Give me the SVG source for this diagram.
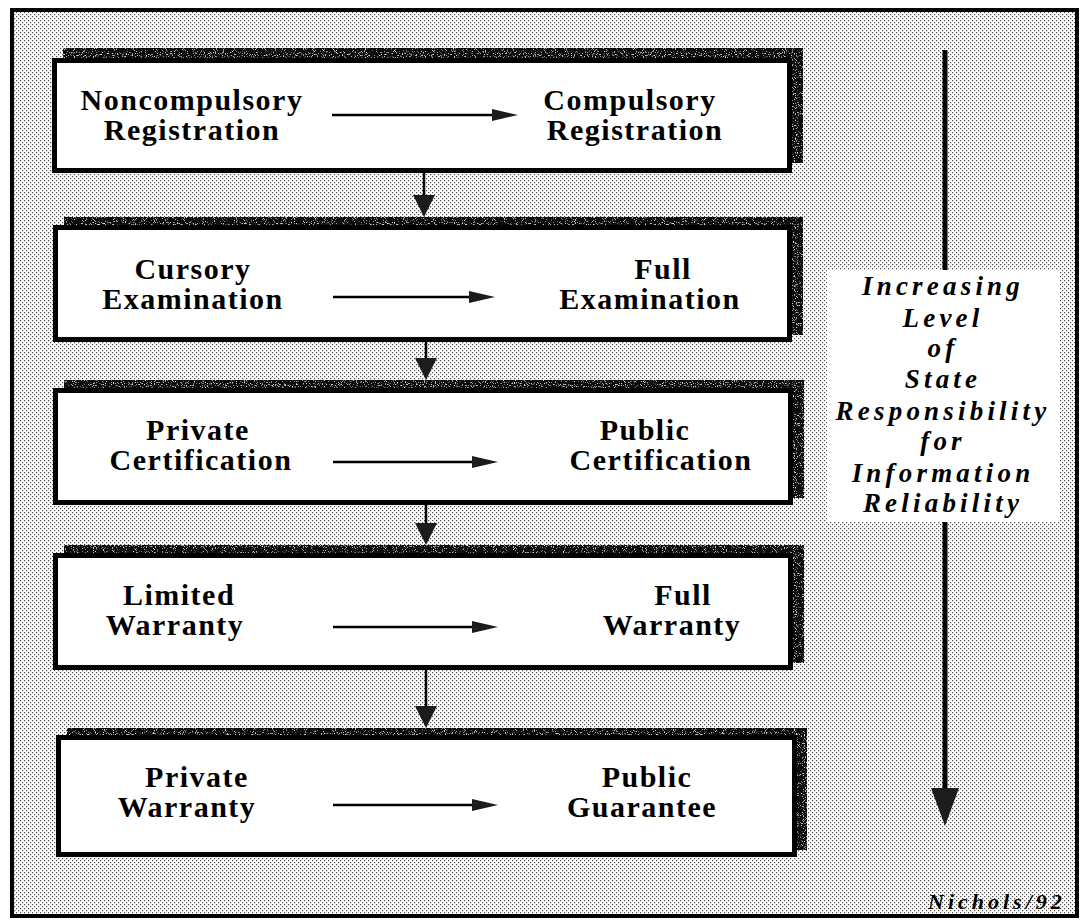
<svg xmlns="http://www.w3.org/2000/svg" width="1080" height="920" viewBox="0 0 1080 920">
  <defs>
    <!-- halftone stipple for the background -->
    <pattern id="stipple" width="4" height="4" patternUnits="userSpaceOnUse">
      <rect width="4" height="4" fill="#ffffff"/>
      <rect x="0" y="0" width="1.2" height="1.2" fill="#505050"/>
      <rect x="2" y="2" width="1.2" height="1.2" fill="#505050"/>
    </pattern>
    <!-- grainy specks over the dark shadow bands and heads -->
    <filter id="speckle" x="0" y="0" width="100%" height="100%">
      <feTurbulence type="fractalNoise" baseFrequency="0.9" numOctaves="1" seed="7" result="n"/>
      <feColorMatrix in="n" type="matrix" values="0 0 0 0 0.7  0 0 0 0 0.7  0 0 0 0 0.7  7 0 0 0 -4.1" result="s"/>
      <feComposite in="s" in2="SourceGraphic" operator="in" result="sp"/>
      <feMerge>
        <feMergeNode in="SourceGraphic"/>
        <feMergeNode in="sp"/>
      </feMerge>
    </filter>
    <marker id="hhead" viewBox="0 0 26 14" refX="1" refY="7" markerWidth="26" markerHeight="14" markerUnits="userSpaceOnUse" orient="auto">
      <path d="M0,1 L26,7 L0,13 Z" fill="#1c1c1c"/>
    </marker>
    <marker id="vhead" viewBox="0 0 22 22" refX="1" refY="11" markerWidth="22" markerHeight="22" markerUnits="userSpaceOnUse" orient="auto">
      <path d="M0,0 L22,11 L0,22 Z" fill="#1c1c1c"/>
    </marker>
  </defs>
  <style>
    .shadow { fill: #111111; filter: url(#speckle); }
    .box { fill: #ffffff; stroke: #000000; stroke-width: 5; }
    .lbl { font-family: "Liberation Serif", "Times New Roman", serif; font-weight: bold; font-size: 30px; letter-spacing: 1.5px; fill: #000000; text-anchor: middle; }
    .side { font-family: "Liberation Serif", "Times New Roman", serif; font-weight: bold; font-style: italic; font-size: 27px; letter-spacing: 4.2px; fill: #000000; text-anchor: middle; }
    .sig { font-family: "Liberation Serif", "Times New Roman", serif; font-weight: bold; font-style: italic; font-size: 22px; letter-spacing: 4px; fill: #000000; }
    .hline { stroke: #000000; stroke-width: 2.5; fill: none; marker-end: url(#hhead); }
    .vline { stroke: #000000; stroke-width: 2.5; fill: none; marker-end: url(#vhead); }
  </style>

  <!-- page frame with stippled ground -->
  <rect x="0" y="0" width="1080" height="920" fill="#ffffff"/>
  <rect x="12" y="10" width="1065" height="906" fill="url(#stipple)" stroke="#000000" stroke-width="4"/>

  <!-- stage 1 -->
  <g id="stage-registration">
    <rect class="shadow" x="63" y="48" width="740" height="115"/>
    <rect class="box" x="54.5" y="60.5" width="735" height="110"/>
    <text class="lbl" x="192" y="110">Noncompulsory</text>
    <text class="lbl" x="192" y="140">Registration</text>
    <text class="lbl" x="630" y="110">Compulsory</text>
    <text class="lbl" x="635" y="140">Registration</text>
  </g>

  <!-- stage 2 -->
  <g id="stage-examination">
    <rect class="shadow" x="64" y="217" width="739" height="118"/>
    <rect class="box" x="55.5" y="227.5" width="734" height="112"/>
    <text class="lbl" x="193" y="279">Cursory</text>
    <text class="lbl" x="193" y="309">Examination</text>
    <text class="lbl" x="663" y="279">Full</text>
    <text class="lbl" x="650" y="309">Examination</text>
  </g>

  <!-- stage 3 -->
  <g id="stage-certification">
    <rect class="shadow" x="64" y="380" width="740" height="118"/>
    <rect class="box" x="55.5" y="390.5" width="735" height="112"/>
    <text class="lbl" x="198" y="440">Private</text>
    <text class="lbl" x="201" y="470">Certification</text>
    <text class="lbl" x="645" y="440">Public</text>
    <text class="lbl" x="661" y="470">Certification</text>
  </g>

  <!-- stage 4 -->
  <g id="stage-warranty">
    <rect class="shadow" x="64" y="545" width="740" height="118"/>
    <rect class="box" x="55.5" y="555.5" width="735" height="112"/>
    <text class="lbl" x="179" y="605">Limited</text>
    <text class="lbl" x="175" y="635">Warranty</text>
    <text class="lbl" x="683" y="605">Full</text>
    <text class="lbl" x="672" y="635">Warranty</text>
  </g>

  <!-- stage 5 -->
  <g id="stage-guarantee">
    <rect class="shadow" x="67" y="728" width="740" height="122"/>
    <rect class="box" x="58.5" y="737.5" width="736" height="117"/>
    <text class="lbl" x="197" y="787">Private</text>
    <text class="lbl" x="187" y="817">Warranty</text>
    <text class="lbl" x="647" y="787">Public</text>
    <text class="lbl" x="642" y="817">Guarantee</text>
  </g>

  <!-- side label -->
  <g id="side-label">
    <rect x="827" y="270" width="233" height="252" fill="#ffffff"/>
    <text class="side" x="943" y="295">Increasing</text>
    <text class="side" x="943" y="327">Level</text>
    <text class="side" x="943" y="357">of</text>
    <text class="side" x="943" y="388">State</text>
    <text class="side" x="943" y="420">Responsibility</text>
    <text class="side" x="943" y="450">for</text>
    <text class="side" x="943" y="482">Information</text>
    <text class="side" x="943" y="512">Reliability</text>
  </g>

  <g id="signature">
    <text class="sig" x="928" y="909">Nichols/92</text>
  </g>

  <!-- connectors -->
  <g id="connectors">
    <line class="hline" x1="332" y1="115" x2="493" y2="115"/>
    <line class="hline" x1="333" y1="297" x2="470" y2="297"/>
    <line class="hline" x1="333" y1="462" x2="473" y2="462"/>
    <line class="hline" x1="333" y1="627" x2="473" y2="627"/>
    <line class="hline" x1="333" y1="805" x2="473" y2="805"/>

    <line class="vline" x1="424" y1="173" x2="424" y2="196"/>
    <line class="vline" x1="426" y1="342" x2="426" y2="359"/>
    <line class="vline" x1="426" y1="505" x2="426" y2="524"/>
    <line class="vline" x1="426" y1="670" x2="426" y2="707"/>

    <line x1="945" y1="50" x2="945" y2="270" stroke="#000000" stroke-width="5"/>
    <line x1="945" y1="522" x2="945" y2="790" stroke="#000000" stroke-width="5"/>
    <path d="M931,788 L959,788 L945,826 Z" fill="#1c1c1c"/>
  </g>
</svg>
